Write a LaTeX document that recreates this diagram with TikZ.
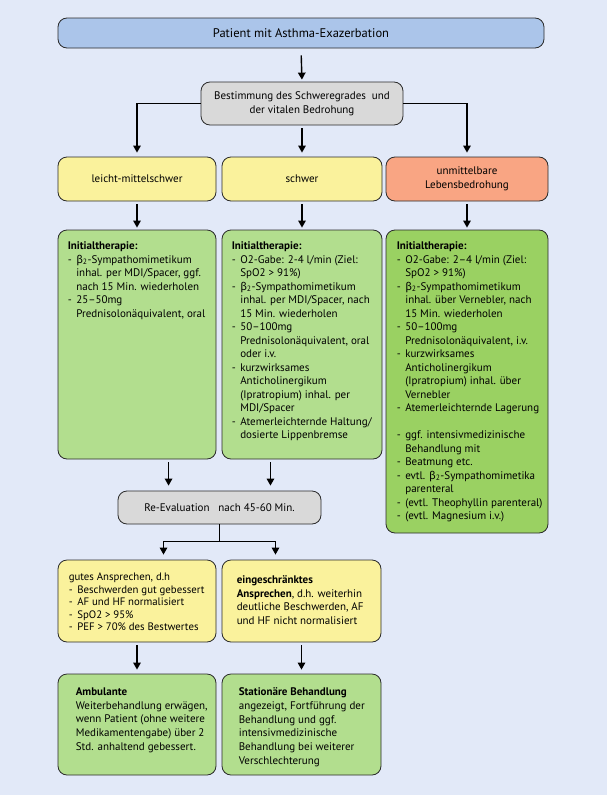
\documentclass[tikz,border=0pt]{standalone}
\usepackage{fontspec}
\setmainfont{PT Sans}
\newfontfamily\greekfont{Fira Sans}
\usetikzlibrary{arrows.meta,calc}

\definecolor{bgblue}{HTML}{E2E9F8}
\definecolor{topblue}{HTML}{ABC5EA}
\definecolor{evalgray}{HTML}{D9D9D9}
\definecolor{catyellow}{HTML}{FAF29C}
\definecolor{lifeorange}{HTML}{F9A583}
\definecolor{therapygreen}{HTML}{B2DE8E}
\definecolor{acutegreen}{HTML}{9AD162}
\definecolor{boxline}{HTML}{2A2A2A}

\newcommand{\btwo}{{\greekfont β}\textsubscript{2}}
\newcommand{\bul}{\makebox[8.5pt][l]{-}}
\newcommand{\ind}{\hspace*{8.5pt}}

\begin{document}
\begin{tikzpicture}[x=1pt,y=-1pt,
    box/.style={draw=boxline, line width=0.8pt, rounded corners=9pt, inner sep=0pt,
      align=center, font=\fontsize{11}{13.5}\selectfont},
    txt/.style={inner sep=0pt, align=left, font=\fontsize{11}{13.5}\selectfont},
    arr/.style={line width=1.4pt, -{Triangle[length=7pt,width=7.5pt]},
      shorten <=3pt, shorten >=4pt}]

    % Hintergrund
    \fill[bgblue] (0,0) rectangle (607,795);

    % Kopf
    \node[box, fill=topblue, minimum width=486pt, minimum height=30pt, font=\fontsize{12.5}{15}\selectfont] (patient) at (301,33) {Patient mit Asthma-Exazerbation};
    \node[box, fill=evalgray, minimum width=202pt, minimum height=43pt, font=\fontsize{11}{14}\selectfont] (schwere) at (302,103.5) {Bestimmung des Schweregrades\ \ und\\der vitalen Bedrohung};

    % Schweregrade
    \node[box, fill=catyellow, minimum width=158pt, minimum height=44pt] (leicht) at (137,179) {leicht-mittelschwer};
    \node[box, fill=catyellow, minimum width=160pt, minimum height=44pt] (schwer) at (302,179) {schwer};
    \node[box, fill=lifeorange, minimum width=162pt, minimum height=44pt] (akut) at (467,179) {unmittelbare\\Lebensbedrohung};

    % Initialtherapie
    \node[box, fill=therapygreen, minimum width=158pt, minimum height=229pt] (therLeicht) at (137,344.5) {};
    \node[txt, anchor=north west] (therLeichtTxt) at ($(therLeicht.north west)+(10,12)$) {%
      \textbf{Initialtherapie:}\\
      \bul\btwo-Sympathomimetikum\\
      \ind inhal. per MDI/Spacer, ggf.\\
      \ind nach 15 Min. wiederholen\\
      \bul 25--50mg\\
      \ind Prednisolonäquivalent, oral};

    \node[box, fill=therapygreen, minimum width=160pt, minimum height=229pt] (therSchwer) at (302,344.5) {};
    \node[txt, anchor=north west] (therSchwerTxt) at ($(therSchwer.north west)+(10,12)$) {%
      \textbf{Initialtherapie:}\\
      \bul O2-Gabe: 2-4 l/min (Ziel:\\
      \ind SpO2 > 91\%)\\
      \bul\btwo-Sympathomimetikum\\
      \ind inhal. per MDI/Spacer, nach\\
      \ind 15 Min. wiederholen\\
      \bul 50--100mg\\
      \ind Prednisolonäquivalent, oral\\
      \ind oder i.v.\\
      \bul kurzwirksames\\
      \ind Anticholinergikum\\
      \ind (Ipratropium) inhal. per\\
      \ind MDI/Spacer\\
      \bul Atemerleichternde Haltung/\\
      \ind dosierte Lippenbremse};

    \node[box, fill=acutegreen, minimum width=162pt, minimum height=303pt] (therAkut) at (467,381.5) {};
    \node[txt, anchor=north west] (therAkutTxt) at ($(therAkut.north west)+(11,12)$) {%
      \textbf{Initialtherapie:}\\
      \bul O2-Gabe: 2--4 l/min (Ziel:\\
      \ind SpO2 > 91\%)\\
      \bul\btwo-Sympathomimetikum\\
      \ind inhal. über Vernebler, nach\\
      \ind 15 Min. wiederholen\\
      \bul 50--100mg\\
      \ind Prednisolonäquivalent, i.v.\\
      \bul kurzwirksames\\
      \ind Anticholinergikum\\
      \ind (Ipratropium) inhal. über\\
      \ind Vernebler\\
      \bul Atemerleichternde Lagerung\\[13.5pt]
      \bul ggf. intensivmedizinische\\
      \ind Behandlung mit\\
      \bul Beatmung etc.\\
      \bul evtl. \btwo-Sympathomimetika\\
      \ind parenteral\\
      \bul (evtl. Theophyllin parenteral)\\
      \bul (evtl. Magnesium i.v.)};

    % Re-Evaluation
    \node[box, fill=evalgray, minimum width=203pt, minimum height=33pt] (reeval) at (219.5,507.5) {Re-Evaluation\ \ \ nach 45-60 Min.};
    \coordinate (evalL) at ($(reeval.north west)!0.25!(reeval.north east)$);
    \coordinate (evalR) at ($(reeval.north west)!0.75!(reeval.north east)$);
    \coordinate (gabel) at ($(reeval.south)+(0,17)$);
    \coordinate (gabelL) at ($(gabel)+(-56,0)$);
    \coordinate (gabelR) at ($(gabel)+(56,0)$);

    % Ansprechen
    \node[box, fill=catyellow, minimum width=158pt, minimum height=82pt] (gut) at (137,601) {};
    \node[txt, anchor=west, font=\fontsize{10.8}{12.6}\selectfont] (gutTxt) at ($(gut.west)+(11,1)$) {%
      gutes Ansprechen, d.h\\
      \bul Beschwerden gut gebessert\\
      \bul AF und HF normalisiert\\
      \bul SpO2 > 95\%\\
      \bul PEF > 70\% des Bestwertes};

    \node[box, fill=catyellow, minimum width=159pt, minimum height=82pt] (begrenzt) at (301.5,601) {};
    \node[txt, anchor=west, font=\fontsize{11}{13.8}\selectfont] (begrenztTxt) at ($(begrenzt.west)+(15,-1)$) {%
      \textbf{eingeschränktes}\\
      \textbf{Ansprechen}, d.h. weiterhin\\
      deutliche Beschwerden, AF\\
      und HF nicht normalisiert};

    % Weiteres Vorgehen
    \node[box, fill=therapygreen, minimum width=158pt, minimum height=101pt] (ambulant) at (137,724.5) {};
    \node[txt, anchor=north west, font=\fontsize{11}{13.7}\selectfont] (ambulantTxt) at ($(ambulant.north west)+(18,14)$) {%
      \textbf{Ambulante}\\
      Weiterbehandlung erwägen,\\
      wenn Patient (ohne weitere\\
      Medikamentengabe) über 2\\
      Std. anhaltend gebessert.};

    \node[box, fill=therapygreen, minimum width=159pt, minimum height=101pt] (stationaer) at (301.5,724.5) {};
    \node[txt, anchor=north west, font=\fontsize{11}{13.7}\selectfont] (stationaerTxt) at ($(stationaer.north west)+(17,14)$) {%
      \textbf{Stationäre Behandlung}\\
      angezeigt, Fortführung der\\
      Behandlung und ggf.\\
      intensivmedizinische\\
      Behandlung bei weiterer\\
      Verschlechterung};

    % Pfeile
    \draw[arr, shorten <=7pt, shorten >=2pt] (patient.south) -- (schwere.north);
    \draw[arr, shorten <=0pt] (schwere.west) -| (leicht.north);
    \draw[arr] (schwere.south) -- (schwer.north);
    \draw[arr, shorten <=0pt] (schwere.east) -| (akut.north);
    \draw[arr, shorten >=2pt] (leicht.south) -- (therLeicht.north);
    \draw[arr, shorten >=2pt] (schwer.south) -- (therSchwer.north);
    \draw[arr, shorten >=2pt] (akut.south) -- (therAkut.north);
    \draw[arr, shorten >=5pt] (therLeicht.south -| evalL) -- (evalL);
    \draw[arr, shorten >=5pt] (therSchwer.south -| evalR) -- (evalR);
    \draw[line width=1.4pt] (reeval.south) -- (gabel);
    \draw[arr, shorten <=0pt, shorten >=5pt] (gabel) -| (gabelL |- gut.north);
    \draw[arr, shorten <=0pt, shorten >=5pt] (gabel) -| (gabelR |- begrenzt.north);
    \draw[arr] (gut.south) -- (ambulant.north);
    \draw[arr] (begrenzt.south) -- (stationaer.north);
\end{tikzpicture}
\end{document}
